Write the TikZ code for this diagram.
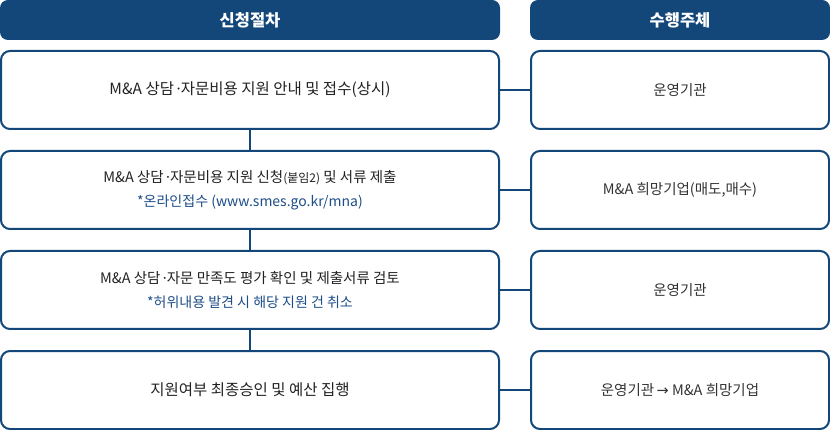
\documentclass[tikz,border=0pt]{standalone}
\usepackage{fontspec}
\setmainfont{Noto Sans CJK KR}
\newfontfamily\latinfont{Noto Sans}
\newfontfamily\symfont{DejaVu Sans}
\definecolor{navy}{HTML}{134779}
\definecolor{subblue}{HTML}{1D4E89}
\definecolor{txtdark}{HTML}{222222}
\newcommand{\mdot}{\,{\latinfont ·}}

\tikzset{
  headbox/.style={fill=navy, rounded corners=8pt, text=white, inner sep=0pt,
    minimum height=40pt, font=\fontsize{16.5}{19}\selectfont\bfseries},
  stepbox/.style={draw=navy, line width=2pt, rounded corners=9pt, fill=white,
    minimum width=498pt, minimum height=78pt, inner sep=0pt, align=center,
    text=txtdark, font=\fontsize{15.5}{24}\selectfont},
  twoline/.style={font=\fontsize{14.5}{24}\selectfont},
  whobox/.style={stepbox, minimum width=298pt, text=black!80,
    font=\fontsize{14.5}{18}\selectfont},
  link/.style={draw=navy, line width=2pt}
}
\newcommand{\notetext}[1]{{\color{subblue}\fontsize{14}{18}\selectfont #1}}

\begin{document}
\begin{tikzpicture}[x=1pt, y=-1pt]
    \useasboundingbox (0,0) rectangle (830,430);

    % 제목
    \node[headbox, minimum width=500pt] (h1) at (250,20) {신청절차};
    \node[headbox, minimum width=300pt] (h2) at (680,20) {수행주체};

    % 신청절차
    \node[stepbox] (s1) at (250,90) {M\&A 상담\mdot 자문비용 지원 안내 및 접수(상시)};
    \node[stepbox, twoline] (s2) at (250,190) {M\&A 상담\mdot 자문비용 지원 신청{\fontsize{12}{14}\selectfont(붙임2)} 및 서류 제출\\
      \notetext{*온라인접수 (www.smes.go.kr/mna)}};
    \node[stepbox, twoline] (s3) at (250,290) {M\&A 상담\mdot 자문 만족도 평가 확인 및 제출서류 검토\\
      \notetext{*허위내용 발견 시 해당 지원 건 취소}};
    \node[stepbox] (s4) at (250,390) {지원여부 최종승인 및 예산 집행};

    % 수행주체
    \node[whobox] (r1) at (680,90) {운영기관};
    \node[whobox] (r2) at (680,190) {M\&A 희망기업(매도,매수)};
    \node[whobox] (r3) at (680,290) {운영기관};
    \node[whobox] (r4) at (680,390) {운영기관\,{\symfont →} M\&A 희망기업};

    % 연결선
    \draw[link] (s1.south) -- (s2.north);
    \draw[link] (s2.south) -- (s3.north);
    \draw[link] (s3.south) -- (s4.north);
    \foreach \i in {1,...,4}
      \draw[link] (s\i.east) -- (r\i.west);
\end{tikzpicture}
\end{document}
